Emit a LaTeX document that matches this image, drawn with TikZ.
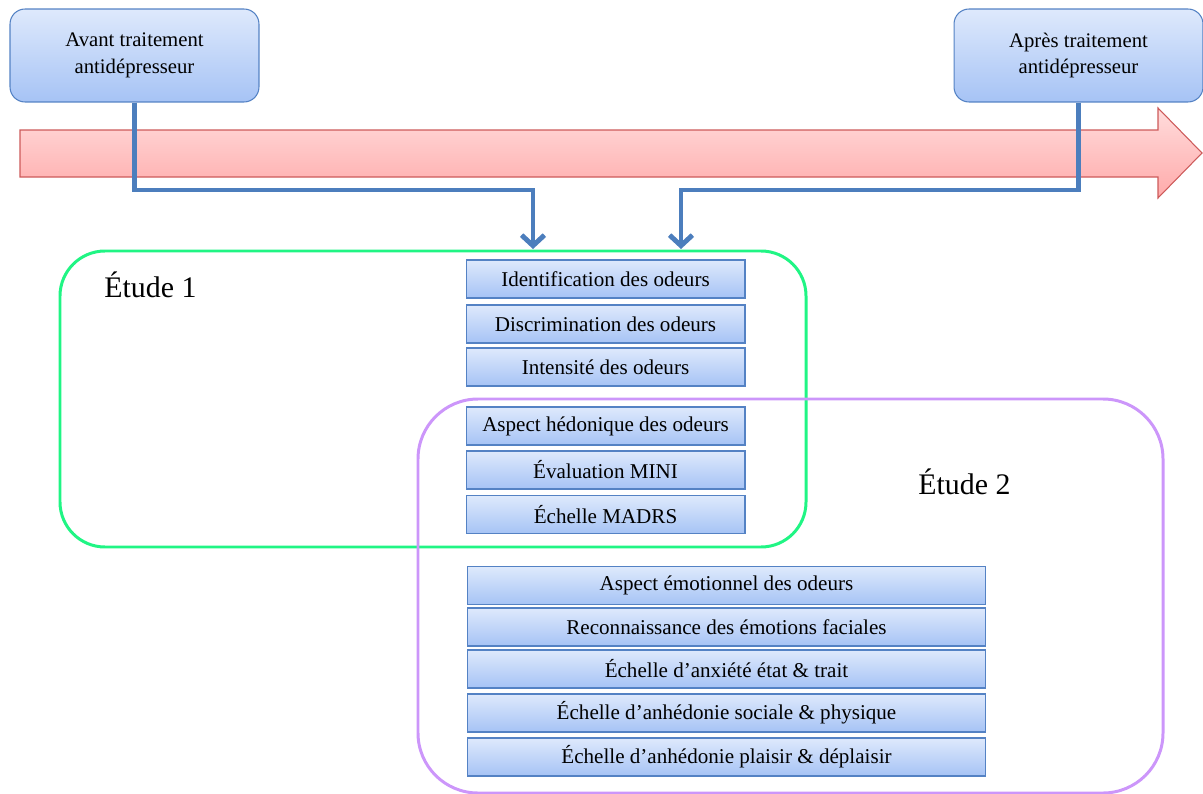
\documentclass[tikz,border=0pt]{standalone}
\usepackage{fontspec}
\setmainfont{Liberation Serif}
\usetikzlibrary{arrows.meta}

\definecolor{boxtop}{RGB}{222,233,252}
\definecolor{boxbot}{RGB}{166,195,245}
\definecolor{boxline}{RGB}{84,130,196}
\definecolor{linkblue}{RGB}{76,126,189}
\definecolor{arrtop}{RGB}{255,220,220}
\definecolor{arrbot}{RGB}{255,170,170}
\definecolor{arrline}{RGB}{205,90,90}
\definecolor{studyone}{RGB}{32,245,132}
\definecolor{studytwo}{RGB}{204,150,250}

\tikzset{
  phase/.style={draw=boxline, line width=0.6pt, rounded corners=0.3cm,
    top color=boxtop, bottom color=boxbot, align=center,
    minimum width=4.98cm, minimum height=1.86cm,
    font=\fontsize{11.8}{15.3}\selectfont},
  test/.style={draw=boxline, line width=0.6pt,
    top color=boxtop, bottom color=boxbot, inner sep=0pt,
    minimum height=0.76cm, font=\fontsize{12}{14}\selectfont},
  link/.style={draw=linkblue, line width=2.8pt,
    -{Straight Barb[length=6pt,width=13pt]}},
  study/.style={anchor=base west, inner sep=0pt,
    font=\fontsize{17}{20}\selectfont}
}

\begin{document}
\begin{tikzpicture}[x=0.02cm, y=-0.02cm]
\useasboundingbox (0,0) rectangle (1203,794);

\path [draw=arrline, line width=0.6pt, top color=arrtop, bottom color=arrbot]
  (20,130) -- (1158,130) -- (1158,108) -- (1202,153)
  -- (1158,198) -- (1158,177) -- (20,177) -- cycle;

\draw [studyone, line width=1.7pt, rounded corners=0.9cm]
  (60,251) rectangle (806,547);
\draw [studytwo, line width=1.7pt, rounded corners=1.2cm]
  (418,399) rectangle (1163,793);

\node [study] (etude1) at (104,297) {Étude 1};
\node [study] (etude2) at (918,494) {Étude 2};

\node [phase] (avant) at ( 134.5,55.5) {Avant traitement\\ antidépresseur};
\node [phase] (apres) at (1078.5,55.5) {Après traitement\\ antidépresseur};

\coordinate (in1) at (533,249);
\coordinate (in2) at (681,249);
\draw [link] (avant) -- (avant |- 0,190) -| (in1);
\draw [link] (apres) -- (apres |- 0,190) -| (in2);

\node [test, minimum width=5.58cm] (ident)  at (605.5,279)   {Identification des odeurs};
\node [test, minimum width=5.58cm] (discr)  at (605.5,324)   {Discrimination des odeurs};
\node [test, minimum width=5.58cm] (intens) at (605.5,367)   {Intensité des odeurs};
\node [test, minimum width=5.58cm] (hedon)  at (605.5,426)   {Aspect hédonique des odeurs};
\node [test, minimum width=5.58cm] (mini)   at (605.5,470)   {Évaluation MINI};
\node [test, minimum width=5.58cm] (madrs)  at (605.5,514.5) {Échelle MADRS};

\node [test, minimum width=10.38cm] (emot)   at (726.5,585.5) {Aspect émotionnel des odeurs};
\node [test, minimum width=10.38cm] (facial) at (726.5,627)   {Reconnaissance des émotions faciales};
\node [test, minimum width=10.38cm] (anx)    at (726.5,669)   {Échelle d’anxiété état \& trait};
\node [test, minimum width=10.38cm] (anhsoc) at (726.5,713)   {Échelle d’anhédonie sociale \& physique};
\node [test, minimum width=10.38cm] (anhpl)  at (726.5,757)   {Échelle d’anhédonie plaisir \& déplaisir};
\end{tikzpicture}
\end{document}
